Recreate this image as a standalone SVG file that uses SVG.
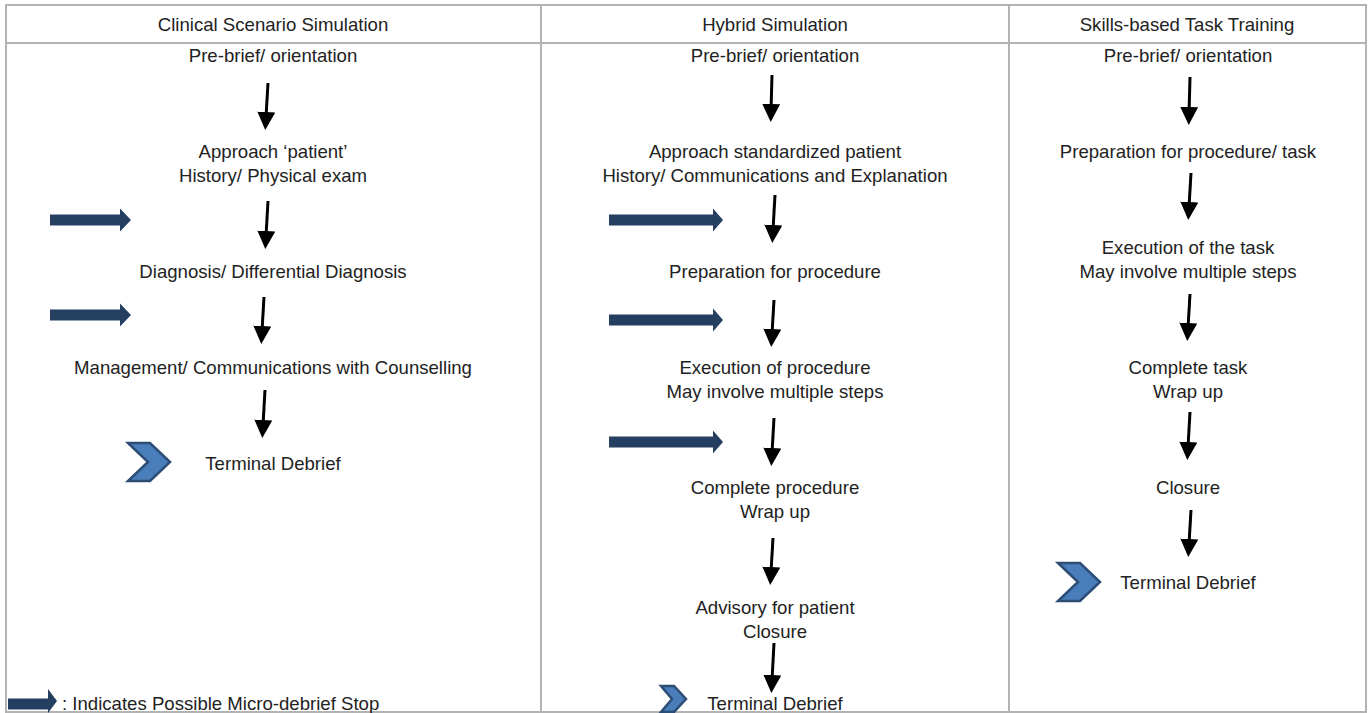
<svg xmlns="http://www.w3.org/2000/svg" width="1370" height="713" viewBox="0 0 1370 713">
<style>
text{font-family:"Liberation Sans",Arial,sans-serif;font-size:18.6px;fill:#222;text-anchor:middle}
.grid{stroke:#b3b3b3;stroke-width:2;fill:none}
.conn{stroke:#000;stroke-width:3;fill:none;marker-end:url(#ah)}
.blue{fill:#243f60}
.chev{fill:#4a7ebb;stroke:#2c4d75;stroke-width:2.5;stroke-linejoin:miter}
</style>
<defs>
<marker id="ah" markerUnits="userSpaceOnUse" markerWidth="18" markerHeight="18" viewBox="0 0 18 18" refX="0" refY="9" orient="auto">
<path d="M0,0 L18,9 L0,18 z" fill="#000"/>
</marker>
</defs>
<rect width="1370" height="713" fill="#fff"/>
<g id="table">
<rect class="grid" x="6" y="5" width="1360" height="707"/>
<line class="grid" x1="6" y1="43" x2="1366" y2="43"/>
<line class="grid" x1="541" y1="5" x2="541" y2="712"/>
<line class="grid" x1="1009" y1="5" x2="1009" y2="712"/>
</g>
<g id="headers">
<text x="273" y="31">Clinical Scenario Simulation</text>
<text x="775" y="31">Hybrid Simulation</text>
<text x="1187" y="31">Skills-based Task Training</text>
</g>
<g id="col1-prebrief"><text x="273" y="62">Pre-brief/ orientation</text></g>
<g id="col1-approach"><text x="273" y="158">Approach ‘patient’</text><text x="273" y="182">History/ Physical exam</text></g>
<g id="col1-diagnosis"><text x="273" y="278">Diagnosis/ Differential Diagnosis</text></g>
<g id="col1-management"><text x="273" y="374">Management/ Communications with Counselling</text></g>
<g id="col1-debrief"><polygon class="chev" points="128,443 150,443 170,462 150,481 128,481 148,462"/><text x="273" y="470">Terminal Debrief</text></g>
<g id="col2-prebrief"><text x="775" y="62">Pre-brief/ orientation</text></g>
<g id="col2-approach"><text x="775" y="158">Approach standardized patient</text><text x="775" y="182">History/ Communications and Explanation</text></g>
<g id="col2-prep"><text x="775" y="278">Preparation for procedure</text></g>
<g id="col2-exec"><text x="775" y="374">Execution of procedure</text><text x="775" y="398">May involve multiple steps</text></g>
<g id="col2-complete"><text x="775" y="494">Complete procedure</text><text x="775" y="518">Wrap up</text></g>
<g id="col2-advisory"><text x="775" y="614">Advisory for patient</text><text x="775" y="638">Closure</text></g>
<g id="col2-debrief"><polygon class="chev" points="661,686 674,686 686,699 674,712 661,712 672,699"/><text x="775" y="710">Terminal Debrief</text></g>
<g id="col3-prebrief"><text x="1188" y="62">Pre-brief/ orientation</text></g>
<g id="col3-prep"><text x="1188" y="158">Preparation for procedure/ task</text></g>
<g id="col3-exec"><text x="1188" y="254">Execution of the task</text><text x="1188" y="278">May involve multiple steps</text></g>
<g id="col3-complete"><text x="1188" y="374">Complete task</text><text x="1188" y="398">Wrap up</text></g>
<g id="col3-closure"><text x="1188" y="494">Closure</text></g>
<g id="col3-debrief"><polygon class="chev" points="1058,563 1080,563 1100,582 1080,601 1058,601 1078,582"/><text x="1188" y="589">Terminal Debrief</text></g>
<g id="micro-stops">
<polygon class="blue" points="50,214.5 120,214.5 120,208.5 131,220 120,231.5 120,225.5 50,225.5"/>
<polygon class="blue" points="50,309.5 120,309.5 120,303.5 131,315 120,326.5 120,320.5 50,320.5"/>
<polygon class="blue" points="609,214.5 713,214.5 713,208.5 723,220 713,231.5 713,225.5 609,225.5"/>
<polygon class="blue" points="609,314.5 713,314.5 713,308.5 723,320 713,331.5 713,325.5 609,325.5"/>
<polygon class="blue" points="609,436.5 713,436.5 713,430.5 723,442 713,453.5 713,447.5 609,447.5"/>
</g>
<g id="legend">
<polygon class="blue" points="8,698.5 48,698.5 48,689 57,701 48,713 48,709.5 8,709.5"/>
<text x="62" y="710" style="text-anchor:start">: Indicates Possible Micro-debrief Stop</text>
</g>
<g id="connectors">
<line class="conn" x1="268" y1="83" x2="266.3" y2="112"/>
<line class="conn" x1="268" y1="201" x2="266.3" y2="231"/>
<line class="conn" x1="264" y1="297" x2="262.3" y2="326"/>
<line class="conn" x1="265" y1="390" x2="263.3" y2="420"/>
<line class="conn" x1="772" y1="75" x2="771.2" y2="104"/>
<line class="conn" x1="775" y1="195" x2="773.3" y2="225"/>
<line class="conn" x1="774" y1="300" x2="772.3" y2="329"/>
<line class="conn" x1="774" y1="418" x2="772.3" y2="448"/>
<line class="conn" x1="773" y1="538" x2="771.3" y2="567"/>
<line class="conn" x1="774" y1="643" x2="772.3" y2="675"/>
<line class="conn" x1="1190" y1="77" x2="1189.2" y2="107"/>
<line class="conn" x1="1191" y1="173" x2="1189.3" y2="202"/>
<line class="conn" x1="1190" y1="294" x2="1188.3" y2="323"/>
<line class="conn" x1="1190" y1="412" x2="1188.3" y2="442"/>
<line class="conn" x1="1191" y1="510" x2="1189.3" y2="539"/>
</g>
</svg>
